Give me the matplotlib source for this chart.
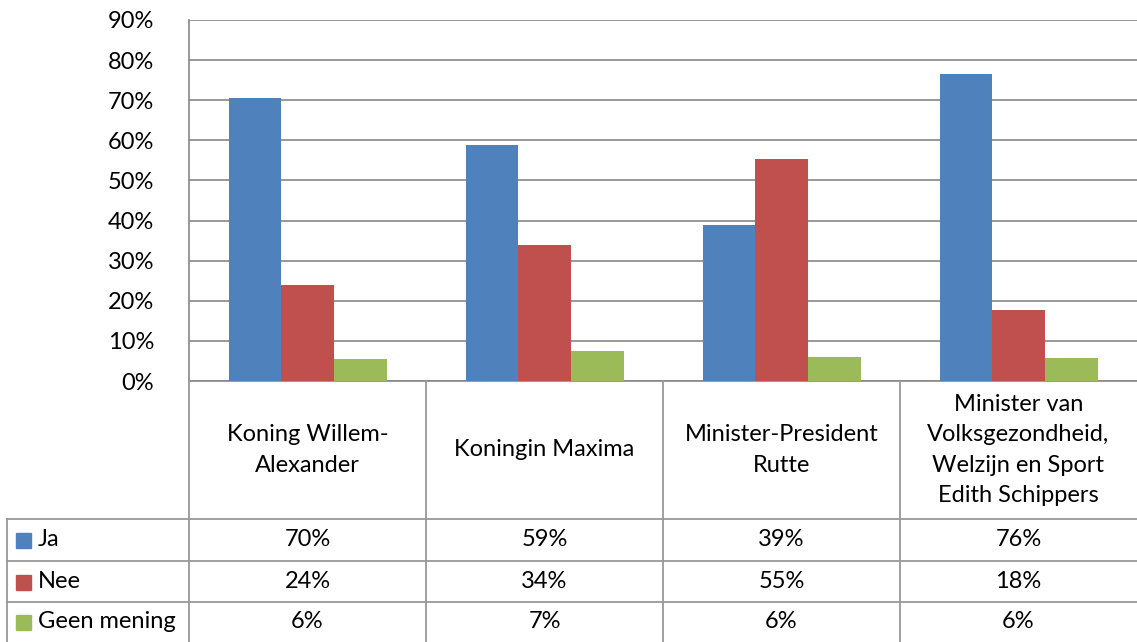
import numpy as np
import matplotlib.pyplot as plt
from matplotlib.patches import Rectangle

categories = ["Koning Willem-\nAlexander", "Koningin Maxima", "Minister-President\nRutte",
              "Minister van\nVolksgezondheid,\nWelzijn en Sport\nEdith Schippers"]
series = ["Ja", "Nee", "Geen mening"]
ja = [70.5, 58.8, 38.9, 76.5]
nee = [23.9, 33.9, 55.3, 17.7]
geen = [5.6, 7.5, 6.0, 5.7]
ja_lbl = ["70%", "59%", "39%", "76%"]
nee_lbl = ["24%", "34%", "55%", "18%"]
geen_lbl = ["6%", "7%", "6%", "6%"]
colors = ["#4F81BD", "#C0504D", "#9BBB59"]

plt.rcParams['font.family'] = ['Lato', 'DejaVu Sans']
W, H = 1137, 642
fs = 17
fig = plt.figure(figsize=(W / 100, H / 100), dpi=100)

# plot area in pixels
left, right, top, bottom = 189, 1137, 20, 381
ax = fig.add_axes([left / W, 1 - bottom / H, (right - left) / W, (bottom - top) / H])
x = np.arange(len(categories))
bw = 1 / 4.5
for i, vals in enumerate([ja, nee, geen]):
    ax.bar(x + (i - 1) * bw, vals, bw, color=colors[i], edgecolor='none', zorder=3)
ax.set_xlim(-0.5, len(categories) - 0.5)
ax.set_ylim(0, 90)
ax.set_yticks(range(0, 91, 10))
ax.set_yticklabels([f"{v}%" for v in range(0, 91, 10)], fontsize=fs)
ax.set_xticks([])
ax.grid(axis='y', color='#888888', linewidth=1.2, zorder=0)
for s in ['top', 'right']:
    ax.spines[s].set_visible(False)
ax.spines['left'].set_color('#888888')
ax.spines['bottom'].set_color('#888888')
ax.spines['left'].set_linewidth(1.2)
ax.spines['bottom'].set_linewidth(1.2)
ax.tick_params(axis='y', length=0, pad=25)

# data table in pixel coordinates
tab = fig.add_axes([0, 0, 1, 1], facecolor='none')
tab.set_xlim(0, W)
tab.set_ylim(H, 0)
tab.axis('off')
lc = '#999999'
col_x = [left + (right - left) * k / len(categories) for k in range(len(categories) + 1)]
row_y = [bottom, 519, 561, 602, H]
name_x = 7
for cx in col_x[:-1]:
    tab.plot([cx, cx], [bottom, H], color=lc, lw=1.3)
tab.plot([name_x, name_x], [row_y[1], H], color=lc, lw=1.3)
for ry in row_y[1:4]:
    tab.plot([name_x, W], [ry, ry], color=lc, lw=1.3)

for k, cat in enumerate(categories):
    cx = (col_x[k] + col_x[k + 1]) / 2
    tab.text(cx, (row_y[0] + row_y[1]) / 2, cat, ha='center', va='center',
             fontsize=fs, linespacing=1.55)

for r, (name, labels) in enumerate(zip(series, [ja_lbl, nee_lbl, geen_lbl])):
    cy = (row_y[r + 1] + row_y[r + 2]) / 2
    tab.add_patch(Rectangle((16, cy - 7), 15, 15, color=colors[r]))
    tab.text(38, cy, name, ha='left', va='center', fontsize=fs)
    for k, lab in enumerate(labels):
        cx = (col_x[k] + col_x[k + 1]) / 2
        tab.text(cx, cy, lab, ha='center', va='center', fontsize=fs)

fig.savefig('out.png', dpi=100)
